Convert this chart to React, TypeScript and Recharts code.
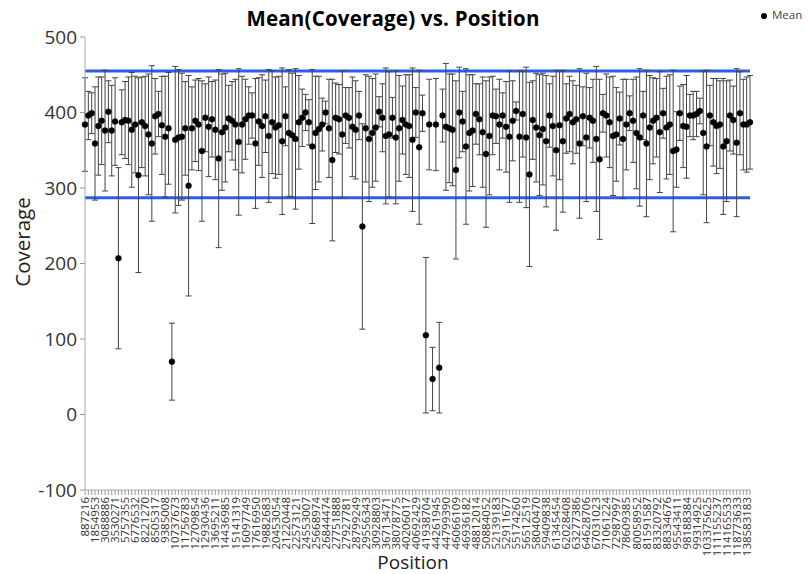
import React from 'react';
import { ComposedChart, Line, ErrorBar, XAxis, YAxis, ReferenceLine } from 'recharts';

// every third position carries a label on the axis
const positionLabels = [
  '887216', '1854953', '3088886', '3530271', '5757355', '6776532', '8221270', '8505317', '9385008',
  '10737673', '11756783', '12709854', '12930436', '13695211', '14436985', '15141319', '16097749',
  '17616950', '19882683', '20453054', '21220448', '22573121', '24553007', '25668974', '26844474',
  '27751888', '27927781', '28799249', '29556343', '30928803', '36713471', '38078775', '40206017',
  '40692429', '41938704', '44261945', '44799390', '46066109', '46936182', '48812014', '50884052',
  '52139183', '52911677', '55174260', '56512519', '58040470', '59409838', '61345454', '62028408',
  '63277386', '64628706', '67031023', '71061224', '72987997', '78609385', '80058952', '81591587',
  '83320792', '88334676', '95543411', '98188384', '99314925', '103375625', '111155237', '114165533',
  '118773633', '138583183',
];

const means = [
  384, 396, 399, 359, 382, 389, 376, 401, 376, 388, 207, 387, 390, 389, 377, 384, 317, 387, 382, 371,
  359, 395, 398, 383, 368, 379, 70, 364, 367, 368, 379, 303, 379, 389, 384, 349, 393, 381, 391, 377,
  339,
  374, 380, 392, 389, 384, 361, 384, 391, 396, 396, 359, 388, 382, 395, 369, 387, 380, 383, 362, 395,
  373, 370, 365, 387, 393, 400, 387, 355, 373, 378, 384, 400, 379, 337, 393, 391, 371, 396, 393, 381,
  377, 396, 249, 379, 365, 373, 380, 401, 393, 369, 371, 393, 367, 379, 390, 384, 382, 364, 400, 354,
  399, 105, 384, 47, 384, 62, 396, 381, 379, 377, 324, 400, 388, 355, 373, 376, 398, 391, 374, 345,
  369, 396, 395, 384, 396, 381, 368, 389, 402, 368, 398, 367, 318, 390, 380, 370, 378, 362, 396, 382,
  350, 383, 362, 392, 398, 387, 391, 359, 395, 367, 393, 389, 365, 338, 399, 396, 387, 369, 371, 392,
  365, 384, 399, 389, 373, 367, 396, 359, 380, 389, 393, 374, 399, 380, 384, 349, 351, 399, 382, 381,
  396, 396, 398, 402, 373, 355, 396, 387, 382, 384, 355, 362, 396, 390, 360, 399, 384, 384, 387,
];

// half length of each error bar (mean +/- spread)
const spreads = [
  62, 32, 27, 75, 65, 58, 80, 41, 60, 58, 120, 43, 51, 58, 76, 64, 129, 60, 66, 80,
  103, 50, 30, 65, 80, 74, 51, 97, 90, 84, 62, 146, 55, 54, 61, 93, 45, 66, 50, 66,
  118,
  77, 72, 44, 52, 60, 97, 64, 53, 38, 30, 86, 58, 68, 48, 88, 68, 67, 65, 97, 39,
  84, 82, 93, 62, 38, 24, 30, 102, 75, 70, 35, 15, 65, 107, 46, 46, 84, 37, 40, 66,
  65, 32, 136, 71, 83, 72, 71, 20, 45, 90, 83, 27, 88, 70, 45, 66, 68, 95, 33, 102,
  24, 103, 60, 42, 61, 60, 35, 84, 72, 74, 118, 60, 40, 103, 77, 74, 40, 47, 73, 97,
  78, 52, 36, 60, 30, 60, 87, 53, 12, 87, 57, 93, 122, 52, 72, 80, 74, 87, 42, 66,
  106, 72, 94, 46, 50, 55, 45, 99, 39, 85, 40, 55, 96, 106, 25, 55, 60, 79, 62, 35,
  79, 60, 23, 55, 74, 91, 32, 97, 69, 57, 52, 80, 33, 68, 66, 107, 50, 36, 55, 68,
  28, 32, 30, 17, 82, 101, 40, 58, 63, 58, 90, 80, 47, 45, 98, 55, 60, 63, 62,
];

const limitLines = [455, 287];
const yTicks = [-100, 0, 100, 200, 300, 400, 500];

const data = means.map((m, i) => ({ idx: i, mean: m, err: spreads[i] }));

const FONT = '"Open Sans", "Noto Sans", sans-serif';

const PositionTick = (props: any) => {
  const { x, y, payload } = props;
  const i = payload.value;
  const label = i % 3 === 0 ? positionLabels[i / 3] : '';
  if (!label) return null;
  return (
    <g transform={`translate(${x},${y})`}>
      <text
        transform="rotate(-90)"
        x={0}
        y={0}
        dy="0.36em"
        textAnchor="end"
        fontSize={11.5}
        fontFamily={FONT}
        fill="#333"
      >
        {label}
      </text>
    </g>
  );
};

export default function App() {
  return (
    <div style={{ position: 'absolute', left: 0, top: 0, width: 808, height: 574, background: '#fff', fontFamily: FONT, overflow: 'hidden' }}>
      <div style={{ position: 'absolute', left: 0, width: 786, top: 4, textAlign: 'center', fontWeight: 700, fontSize: 20.5, letterSpacing: 0.2, color: '#000' }}>
        Mean(Coverage) vs. Position
      </div>
      <div style={{ position: 'absolute', left: 761, top: 7, fontSize: 11.5, color: '#444', whiteSpace: 'nowrap' }}>
        <span style={{ display: 'inline-block', width: 6, height: 6, borderRadius: 3, background: '#000', marginRight: 5, verticalAlign: 'middle' }} />
        Mean
      </div>
      <div style={{ position: 'absolute', left: 22, top: 242, transform: 'translate(-50%, -50%) rotate(-90deg)', fontSize: 20.5, color: '#222', whiteSpace: 'nowrap' }}>
        Coverage
      </div>
      <div style={{ position: 'absolute', left: 413, top: 562, transform: 'translate(-50%, -50%)', fontSize: 19, lineHeight: '22px', color: '#222' }}>
        Position
      </div>
      <ComposedChart
        width={808}
        height={574}
        data={data}
        margin={{ top: 37, right: 58, bottom: 0, left: 0 }}
      >
        <XAxis
          dataKey="idx"
          type="category"
          interval={0}
          height={84}
          tick={<PositionTick />}
          tickSize={5}
          tickMargin={2}
          tickLine={{ stroke: '#999' }}
          axisLine={{ stroke: '#aaa' }}
        />
        <XAxis xAxisId="top" dataKey="idx" orientation="top" height={0} tick={false} tickLine={false} axisLine={{ stroke: '#aaa' }} />
        <YAxis
          domain={[-100, 500]}
          ticks={yTicks}
          width={85}
          tickSize={5}
          tickMargin={3}
          tick={{ fontSize: 19, fill: '#333', fontFamily: FONT }}
          tickLine={{ stroke: '#999' }}
          axisLine={{ stroke: '#aaa' }}
        />
        <YAxis yAxisId="r" orientation="right" domain={[-100, 500]} width={0} tick={false} tickLine={false} axisLine={{ stroke: '#aaa' }} />
        {limitLines.map((v) => (
          <ReferenceLine key={v} y={v} stroke="#2a5ee8" strokeWidth={3} />
        ))}
        <Line
          dataKey="mean"
          stroke="none"
          isAnimationActive={false}
          activeDot={false}
          dot={{ r: 3, fill: '#000', stroke: '#000', strokeWidth: 0.3 }}
        >
          <ErrorBar dataKey="err" direction="y" width={3} stroke="#444" strokeWidth={1} />
        </Line>
      </ComposedChart>
    </div>
  );
}
